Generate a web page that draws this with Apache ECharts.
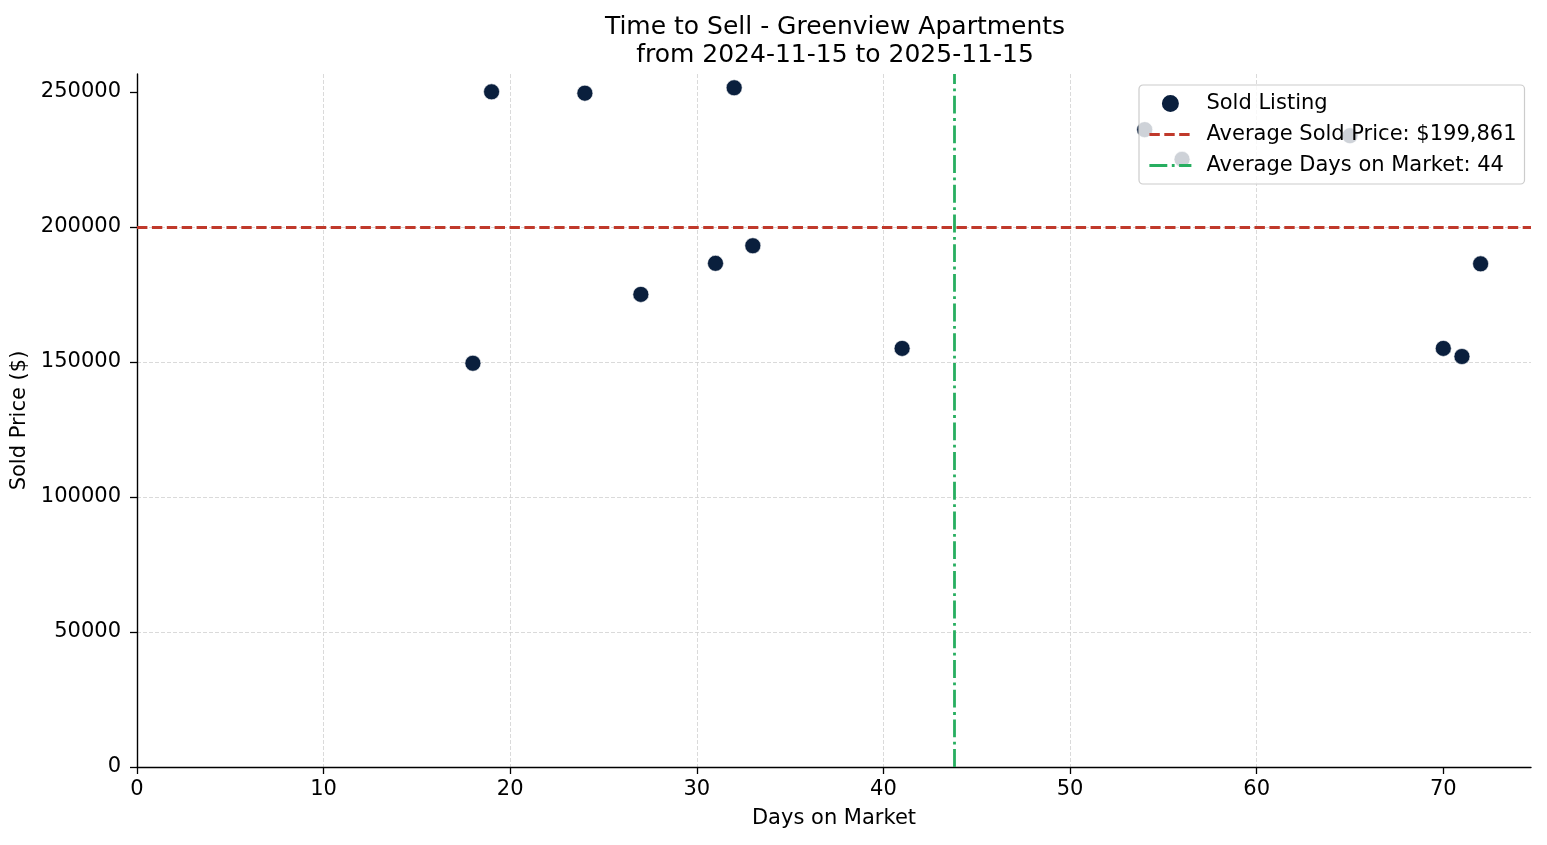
<!DOCTYPE html>
<html>
<head>
<meta charset="utf-8">
<script src="https://cdn.jsdelivr.net/npm/echarts@6/dist/echarts.min.js"></script>
<style>
html,body{margin:0;padding:0;background:#fff;}
#chart{width:1547px;height:845px;}
</style>
</head>
<body>
<div id="chart"></div>
<script>
// Data
const daysOnMarket = [18, 19, 24, 27, 31, 32, 33, 41, 54, 56, 65, 70, 71, 72];
const soldPrice = [149500, 250000, 249500, 175000, 186500, 251500, 193000, 155000, 236000, 225000, 233750, 155000, 152000, 186300];
const xTicks = [0, 10, 20, 30, 40, 50, 60, 70];
const yTicks = [0, 50000, 100000, 150000, 200000, 250000];
const xMax = 74.7;
const yMax = 256600;

const avgPrice = soldPrice.reduce((a, b) => a + b, 0) / soldPrice.length;
const avgDays = daysOnMarket.reduce((a, b) => a + b, 0) / daysOnMarket.length;
const points = daysOnMarket.map((d, i) => [d, soldPrice[i]]);

const FONT = 'DejaVu Sans';
const FS = 21;
const priceLabel = 'Average Sold Price: $' + Math.round(avgPrice).toLocaleString('en-US');
const daysLabel = 'Average Days on Market: ' + Math.round(avgDays);

const RED = '#c0392b', GREEN = '#27ae60';
const redStyle = {color: RED, width: 2.8, type: [10.4, 4.5]};
const greenStyle = {color: GREEN, width: 2.8, type: [17.9, 4.5, 2.8, 4.5]};

const chart = echarts.init(document.getElementById('chart'));
chart.setOption({
  animation: false,
  backgroundColor: '#ffffff',
  textStyle: {fontFamily: FONT},
  title: {
    text: 'Time to Sell - Greenview Apartments\nfrom 2024-11-15 to 2025-11-15',
    left: 830, top: 8, textAlign: 'center',
    textStyle: {fontFamily: FONT, fontSize: 25, fontWeight: 'normal', color: '#000', lineHeight: 28}
  },
  grid: {left: 137, right: 16, top: 74, bottom: 78, containLabel: false, outerBoundsMode: 'none'},
  legend: {
    orient: 'vertical', left: 1139, top: 85, z: 20,
    padding: [8, 8, 8, 9], itemGap: 10, itemWidth: 42, itemHeight: 19,
    backgroundColor: 'rgba(255,255,255,0.8)', borderColor: '#cccccc', borderWidth: 1.2, borderRadius: 4,
    textStyle: {fontFamily: FONT, fontSize: FS, color: '#000', lineHeight: 20, padding: [0, 0, 0, 10]},
    data: [
      {name: 'Sold Listing', icon: 'circle'},
      {name: priceLabel, itemStyle: {opacity: 0}, lineStyle: redStyle},
      {name: daysLabel, itemStyle: {opacity: 0}, lineStyle: greenStyle}
    ]
  },
  xAxis: {
    type: 'value', min: 0, max: xMax, interval: 10,
    name: 'Days on Market', nameLocation: 'middle', nameGap: 41,
    nameTextStyle: {fontFamily: FONT, fontSize: FS, color: '#000'},
    axisLine: {show: true, onZero: false, lineStyle: {color: '#000', width: 1.4}},
    axisTick: {show: true, length: 7, lineStyle: {color: '#000', width: 1.3}, customValues: xTicks},
    axisLabel: {fontFamily: FONT, fontSize: FS, color: '#000', margin: 12, customValues: xTicks,
      formatter: v => String(v)},
    splitLine: {show: true, showMaxLine: false, showMinLine: false, lineStyle: {color: '#d0d0d0', width: 0.8, type: [4, 2]}}
  },
  yAxis: {
    type: 'value', min: 0, max: yMax, interval: 50000,
    name: 'Sold Price ($)', nameLocation: 'middle', nameGap: 96, nameRotate: 90,
    nameTextStyle: {fontFamily: FONT, fontSize: FS, color: '#000'},
    axisLine: {show: true, onZero: false, lineStyle: {color: '#000', width: 1.4}},
    axisTick: {show: true, length: 7, lineStyle: {color: '#000', width: 1.3}, customValues: yTicks},
    axisLabel: {fontFamily: FONT, fontSize: FS, color: '#000', margin: 16, customValues: yTicks,
      formatter: v => String(v)},
    splitLine: {show: true, showMaxLine: false, showMinLine: false, lineStyle: {color: '#d0d0d0', width: 0.8, type: [4, 2]}}
  },
  series: [
    {
      name: 'Sold Listing', type: 'scatter', data: points, symbolSize: 16, z: 5,
      itemStyle: {color: '#0a1f3d', borderColor: '#ffffff', borderWidth: 0.6, opacity: 1}
    },
    {
      name: priceLabel, type: 'line', data: [], symbol: 'none', showSymbol: false,
      itemStyle: {color: RED}, lineStyle: redStyle, z: 3,
      markLine: {silent: true, symbol: ['none', 'none'], label: {show: false}, lineStyle: redStyle,
        data: [{yAxis: avgPrice}], animation: false}
    },
    {
      name: daysLabel, type: 'line', data: [], symbol: 'none', showSymbol: false,
      itemStyle: {color: GREEN}, lineStyle: greenStyle, z: 3,
      markLine: {silent: true, symbol: ['none', 'none'], label: {show: false}, lineStyle: greenStyle,
        data: [{xAxis: avgDays}], animation: false}
    }
  ]
});
</script>
</body>
</html>
